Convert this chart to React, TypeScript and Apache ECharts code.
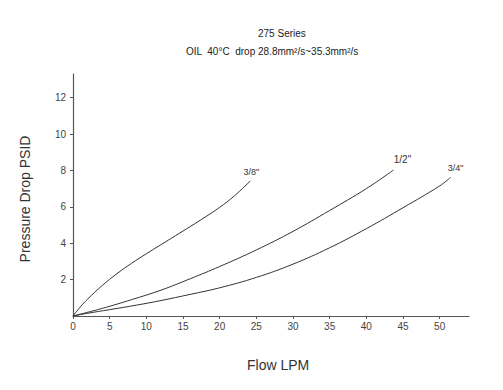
import React, { useEffect, useRef } from "react";
import * as echarts from "echarts";

const titleText = "275 Series";
const subtitleText = "OIL  40°C  drop 28.8mm²/s~35.3mm²/s";
const xName = "Flow LPM";
const yName = "Pressure Drop PSID";

const xTicks = [0, 5, 10, 15, 20, 25, 30, 35, 40, 45, 50];
const yTicks = [2, 4, 6, 8, 10, 12];

const seriesNames = ['3/8"', '1/2"', '3/4"'];

const s38: number[][] = [
  [0, 0], [1, 0.5], [2, 0.93], [4, 1.68], [6, 2.33], [8, 2.9], [10, 3.42],
  [12, 3.92], [14, 4.42], [16, 4.92], [18, 5.43], [20, 5.97], [22, 6.6], [24.2, 7.43],
];
const s12: number[][] = [
  [0, 0], [4, 0.42], [8, 0.9], [12, 1.42], [16, 2.05], [20, 2.72], [25, 3.63],
  [30, 4.65], [35, 5.8], [40, 7.0], [43.7, 8.02],
];
const s34: number[][] = [
  [0, 0], [2, 0.15], [5, 0.35], [8.7, 0.6], [12, 0.85], [16, 1.19], [20, 1.55],
  [25, 2.12], [30, 2.85], [35, 3.75], [40, 4.8], [45, 5.95], [50, 7.15], [51.5, 7.62],
];

const labelOffsets = [[1, -4], [9, -6], [5, -5]];
const labelSizes = [9, 10, 9];

export default function App() {
  const ref = useRef<HTMLDivElement>(null);
  useEffect(() => {
    document.body.style.margin = "0";
    if (!ref.current) return;
    const chart = echarts.init(ref.current, undefined, { renderer: "svg" });
    const all = [s38, s12, s34];
    const series = all.map((d, i) => ({
      type: "line",
      name: seriesNames[i],
      smooth: 0.4,
      symbol: "none",
      lineStyle: { color: "#333", width: 1 },
      endLabel: {
        show: true,
        formatter: seriesNames[i],
        distance: 0,
        offset: labelOffsets[i],
        align: "center",
        verticalAlign: "bottom",
        color: "#333",
        fontSize: labelSizes[i],
        fontFamily: "Liberation Sans",
      },
      data: d,
    }));
    chart.setOption({
      animation: false,
      backgroundColor: "#fff",
      grid: { left: 73, right: 34, top: 74, bottom: 74 },
      xAxis: {
        type: "value",
        min: 0,
        max: 54,
        interval: 5,
        splitLine: { show: false },
        axisLine: { lineStyle: { color: "#555", width: 1.2 } },
        axisTick: { show: true, length: 3, customValues: xTicks, lineStyle: { color: "#555" } },
        axisLabel: {
          customValues: xTicks,
          color: "#444",
          fontSize: 10,
          fontFamily: "Liberation Sans",
          margin: 5,
        },
      },
      yAxis: {
        type: "value",
        min: 0,
        max: 13.3,
        interval: 2,
        splitLine: { show: false },
        axisLine: { show: true, lineStyle: { color: "#555", width: 1.2 } },
        axisTick: { show: true, length: 3, customValues: yTicks, lineStyle: { color: "#555" } },
        axisLabel: {
          customValues: yTicks,
          color: "#444",
          fontSize: 10,
          fontFamily: "Liberation Sans",
          margin: 7,
        },
      },
      graphic: [
        {
          type: "text",
          left: 258,
          top: 28,
          style: { text: titleText, fill: "#222", fontSize: 10, fontFamily: "Liberation Sans" },
        },
        {
          type: "text",
          left: 186,
          top: 46,
          style: { text: subtitleText, fill: "#222", fontSize: 10, fontFamily: "Liberation Sans" },
        },
        {
          type: "text",
          left: 247,
          top: 358,
          style: { text: xName, fill: "#333", fontSize: 14, fontFamily: "Liberation Sans" },
        },
        {
          type: "text",
          x: 25,
          y: 199,
          rotation: Math.PI / 2,
          style: {
            text: yName,
            fill: "#333",
            fontSize: 14,
            fontFamily: "Liberation Sans",
            align: "center",
            verticalAlign: "middle",
          },
        },
      ],
      series,
    });
    return () => chart.dispose();
  }, []);
  return <div ref={ref} style={{ width: 503, height: 390 }} />;
}
